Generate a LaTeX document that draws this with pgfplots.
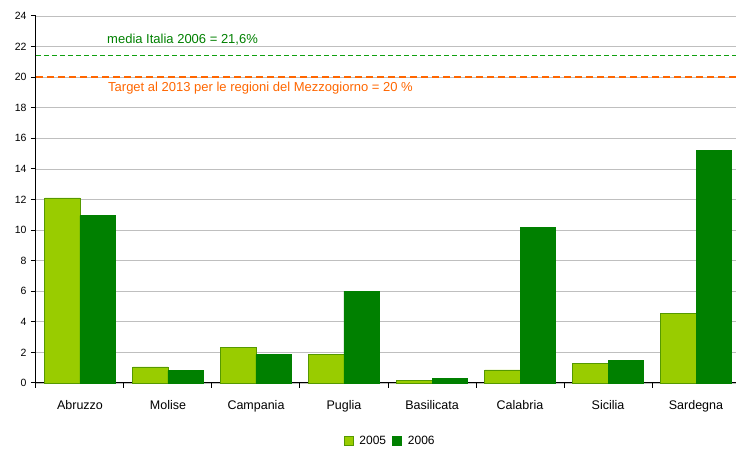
\documentclass[border=0pt]{standalone}
\usepackage{pgfplots}
\pgfplotsset{compat=1.18}
\usepackage{fontspec}
\setmainfont{Liberation Sans}
\definecolor{lgreen}{HTML}{99CC00}
\definecolor{lgreenedge}{HTML}{559900}
\definecolor{dgreen}{HTML}{008000}
\definecolor{lineg}{HTML}{10A010}
\definecolor{orng}{HTML}{FF6600}
\begin{document}
\begin{tikzpicture}[x=1pt,y=1pt]
\begin{axis}[
  at={(36pt,66pt)}, anchor=south west,
  scale only axis, width=704pt, height=367pt,
  xmin=-0.5, xmax=7.5, ymin=0, ymax=24,
  ytick={0,2,...,24},
  xtick={0,...,7},
  xticklabels={Abruzzo,Molise,Campania,Puglia,Basilicata,Calabria,Sicilia,Sardegna},
  minor xtick={-0.5,0.5,...,7.5},
  axis x line*=bottom, axis y line*=left,
  axis line style={black, line width=1pt},
  ymajorgrids, grid style={draw=black!25, line width=0.8pt},
  major x tick style={draw=none},
  minor x tick style={black, line width=1pt},
  major y tick style={black, line width=1pt},
  tick align=outside,
  major tick length=5pt, minor tick length=5pt,
  /pgf/number format/assume math mode=true,
  yticklabel style={font=\fontsize{10.5}{12}\selectfont, xshift=-1pt},
  xticklabel style={font=\fontsize{12.5}{14}\selectfont, yshift=-9pt},
  legend style={at={(0.503,-0.158)}, anchor=center, draw=none, legend columns=2,
    font=\fontsize{12}{14}\selectfont, column sep=4pt},
  legend image code/.code={\draw[#1] (0pt,-4.5pt) rectangle (9pt,4.5pt);},
  clip=false,
]
\addplot[ybar, bar width=35.2pt, bar shift=-17.6pt, fill=lgreen, draw=lgreenedge, line width=0.8pt]
  coordinates {(0,12.1) (1,1.05) (2,2.35) (3,1.85) (4,0.15) (5,0.85) (6,1.3) (7,4.55)};
\addplot[ybar, bar width=35.2pt, bar shift=17.6pt, fill=dgreen, draw=dgreen, line width=0.8pt]
  coordinates {(0,10.95) (1,0.8) (2,1.85) (3,6.0) (4,0.3) (5,10.15) (6,1.5) (7,15.2)};
\legend{2005,2006}
\addplot[forget plot, draw=lineg, line width=1.2pt, dash pattern=on 5pt off 3pt, mark=none] coordinates {(-0.5,21.4) (7.5,21.4)};
\addplot[forget plot, draw=orng, line width=2pt, dash pattern=on 7pt off 4pt, mark=none] coordinates {(-0.5,20) (7.5,20)};
\node[anchor=west, text=dgreen, font=\fontsize{13}{15}\selectfont, inner sep=0pt] at (axis cs:0.307,22.43) {media Italia 2006 = 21,6\%};
\node[anchor=west, text=orng, font=\fontsize{13}{15}\selectfont, inner sep=0pt] at (axis cs:0.318,19.3) {Target al 2013 per le regioni del Mezzogiorno = 20 \%};
\end{axis}
\pgfresetboundingbox
\path[use as bounding box] (0,0) rectangle (736,449);
\end{tikzpicture}
\end{document}
